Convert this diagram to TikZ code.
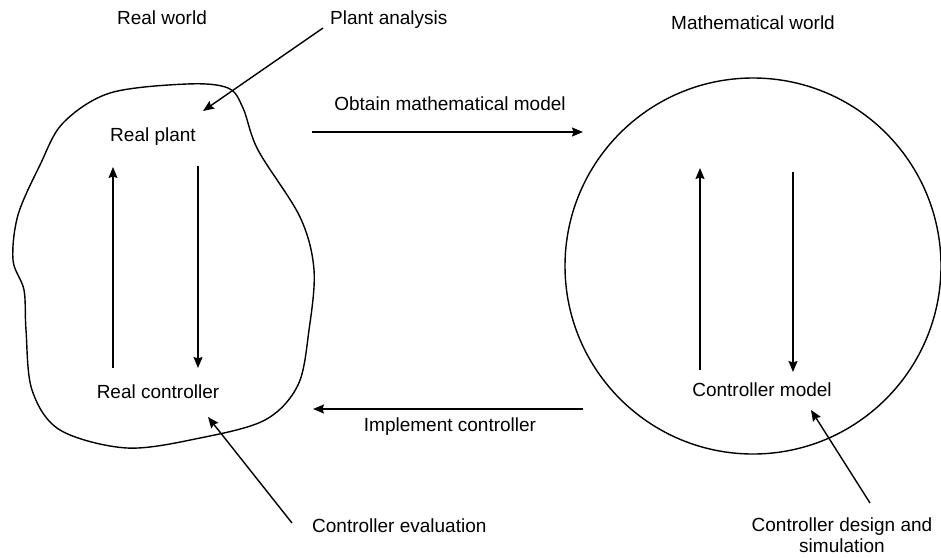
\documentclass[tikz,border=0pt]{standalone}
\usepackage{fontspec}
\setmainfont{Liberation Sans}
\usetikzlibrary{arrows.meta}
\begin{document}
\begin{tikzpicture}[x=1pt,y=-1pt,
  lbl/.style={font=\fontsize{19}{22}\selectfont, inner sep=0pt, align=center},
  arr/.style={line width=1.4pt, -{Stealth[length=11pt,width=9pt,inset=1.5pt]}},
  outline/.style={line width=1.4pt}]
\useasboundingbox (0,0) rectangle (941,557);
% blob
\draw[outline] plot[smooth cycle, tension=0.55] coordinates {
 (63,123) (110,93) (187,84) (228,88) (243,108) (258,150) (300,217) (314,270)
 (309,330) (298,385) (265,420) (200,438) (127,448) (60,430) (32,390) (26,330)
 (24,290) (13,260) (18,215) (40,165)};
% circle
\node[outline, draw, circle, minimum size=376pt, inner sep=0pt] (circ) at (753,266) {};
% titles
\node[lbl] (rw) at (162,18) {Real world};
\node[lbl] (mw) at (753,23) {Mathematical world};
\node[lbl, anchor=west] (pa) at (330,20) {Plant analysis};
\node[lbl] (rp) at (153,137) {Real plant};
\node[lbl] (rc) at (158,392) {Real controller};
\node[lbl] (cm) at (762,390) {Controller model};
\node[lbl] (omm) at (450,104) {Obtain mathematical model};
\node[lbl] (ic) at (450,427) {Implement controller};
\node[lbl, anchor=west] (ce) at (312,526) {Controller evaluation};
\node[lbl, font=\fontsize{19}{21}\selectfont] (cd) at (842,535) {Controller design and\\simulation};
% coordinates for connector ends
\coordinate (paS) at (323,28);   \coordinate (paE) at (203,111);
\coordinate (ceS) at (292,523);  \coordinate (ceE) at (208,417);
\coordinate (cdS) at (870,503);  \coordinate (cdE) at (811,410);
\coordinate (omS) at (312,132);  \coordinate (omE) at (583,132);
\coordinate (icS) at (583,409);  \coordinate (icE) at (313,409);
\coordinate (ruS) at (113,368);  \coordinate (ruE) at (113,167);
\coordinate (rdS) at (198,166);  \coordinate (rdE) at (198,368);
\coordinate (muS) at (700,370);  \coordinate (muE) at (700,168);
\coordinate (mdS) at (793,172);  \coordinate (mdE) at (793,372);
\draw[arr] (paS) -- (paE);
\draw[arr] (ceS) -- (ceE);
\draw[arr] (cdS) -- (cdE);
\draw[arr] (omS) -- (omE);
\draw[arr] (icS) -- (icE);
\draw[arr] (ruS) -- (ruE);
\draw[arr] (rdS) -- (rdE);
\draw[arr] (muS) -- (muE);
\draw[arr] (mdS) -- (mdE);
\end{tikzpicture}
\end{document}
